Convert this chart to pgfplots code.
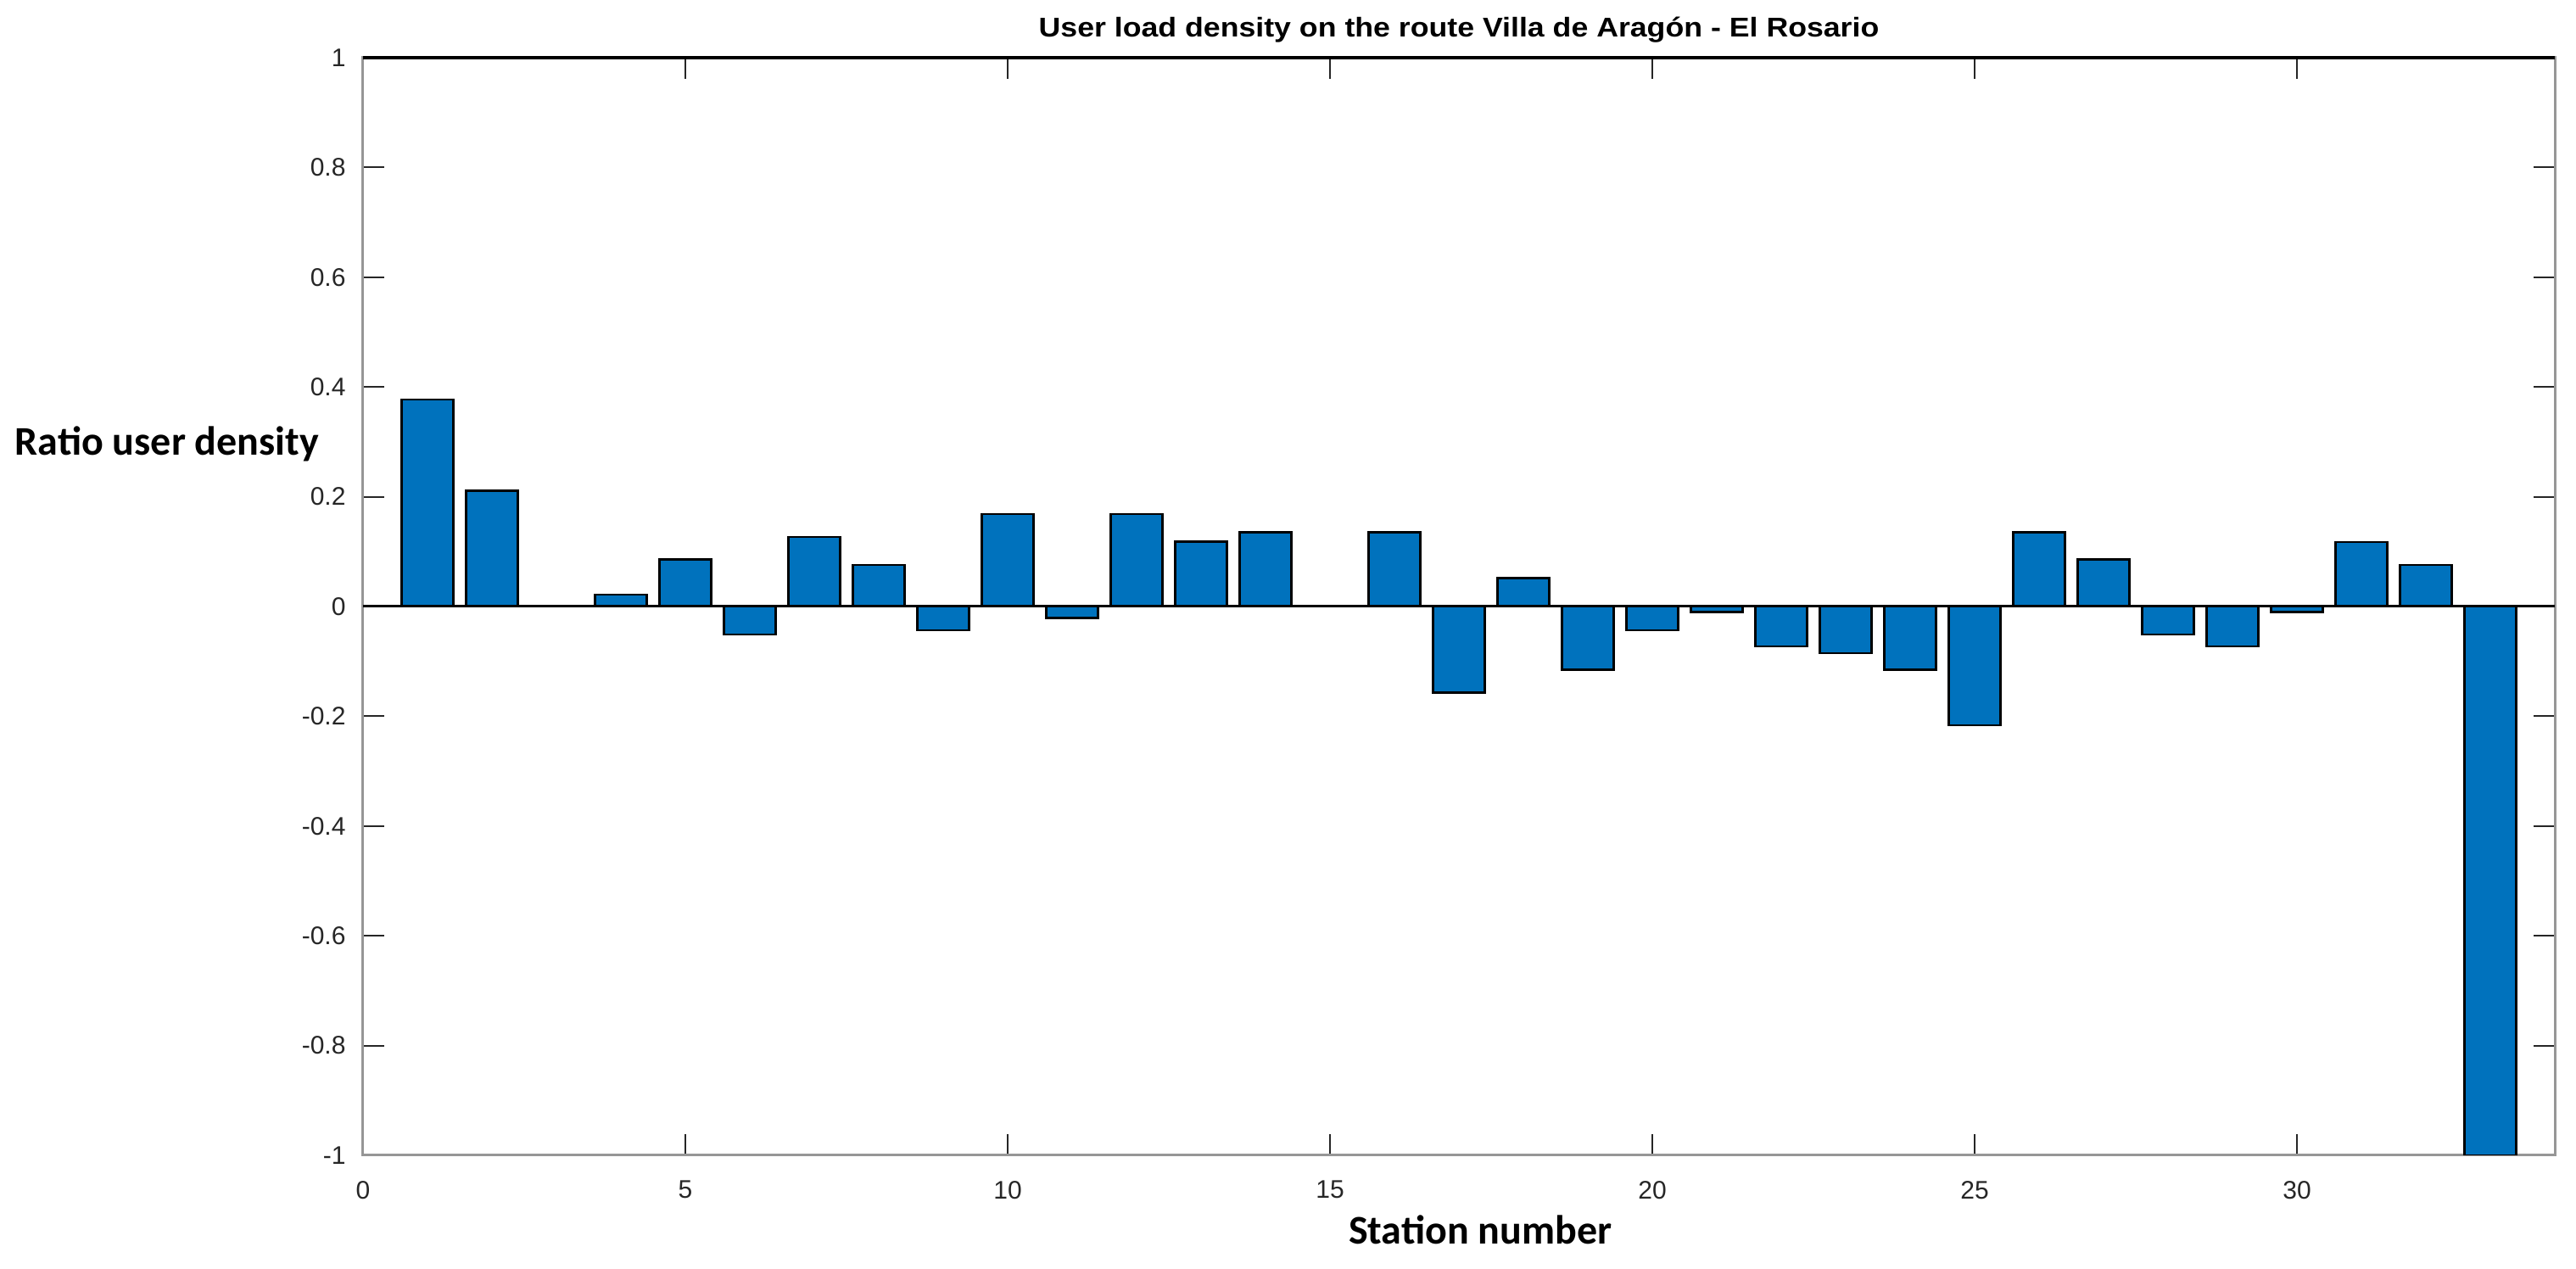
\documentclass[border=0pt]{standalone}
\usepackage{graphicx}
\usepackage{pgfplots}
\pgfplotsset{compat=1.18}
\usepackage{fontspec}
\setmainfont{Liberation Sans}
\newfontfamily\labelfont{Carlito}
\definecolor{barblue}{RGB}{0,114,189}
\definecolor{framegray}{RGB}{150,150,150}
\definecolor{tickcol}{RGB}{38,38,38}
\pgfplotstableread{
x y
1 0.377
2 0.211
3 0
4 0.022
5 0.086
6 -0.051
7 0.127
8 0.076
9 -0.043
10 0.168
11 -0.021
12 0.168
13 0.118
14 0.135
15 0
16 0.135
17 -0.157
18 0.052
19 -0.115
20 -0.043
21 -0.010
22 -0.073
23 -0.085
24 -0.115
25 -0.216
26 0.135
27 0.086
28 -0.051
29 -0.073
30 -0.010
31 0.117
32 0.076
33 -1
}\densitydata
\begin{document}
\begin{tikzpicture}
\path[use as bounding box] (-107pt,-33.5pt) rectangle (652.25pt,340.5pt);
\begin{axis}[
  name=ax,
  scale only axis,
  width=646pt, height=323.5pt,
  xmin=0, xmax=34, ymin=-1, ymax=1,
  xtick={0,5,10,15,20,25,30},
  xticklabels={0,5,10,15,20,25,30},
  ytick={-1,-0.8,-0.6,-0.4,-0.2,0,0.2,0.4,0.6,0.8,1},
  yticklabels={-1,-0.8,-0.6,-0.4,-0.2,0,0.2,0.4,0.6,0.8,1},
  tick align=inside,
  major tick length=6.2pt,
  tick style={tickcol, line width=0.5pt},
  axis line style={framegray, line width=0.75pt},
  ticklabel style={font=\fontsize{7.5}{8}\selectfont, text=tickcol},
  xticklabel style={yshift=-4pt},
  yticklabel style={xshift=-1.6pt},
  every axis title/.style={font=\fontsize{8}{9}\selectfont, inner sep=0pt, at={(axis description cs:0.5,1)}, anchor=base, yshift=6pt},
  title={\scalebox{1.115}[1]{\bfseries User load density on the route Villa de Arag\'on - El Rosario}},
  xlabel={Station number},
  xlabel style={font=\labelfont\bfseries\fontsize{12}{14}\selectfont, inner sep=0pt, at={(axis description cs:0.5097,0)}, anchor=base, yshift=-26.25pt},
  ylabel={Ratio user density},
  ylabel style={font=\labelfont\bfseries\fontsize{12}{14}\selectfont, inner sep=0pt, rotate=-90, at={(axis description cs:-0.159,0.6376)}, anchor=base west},
]
\addplot[ybar, bar width=0.8, fill=barblue, draw=black, line width=0.6pt] table[x=x, y=y] {\densitydata};
\addplot[black, line width=0.75pt, no marks] coordinates {(0,0) (34,0)};
\end{axis}
\draw[black, line width=0.9pt] (ax.north west) -- (ax.north east);
\end{tikzpicture}
\end{document}
